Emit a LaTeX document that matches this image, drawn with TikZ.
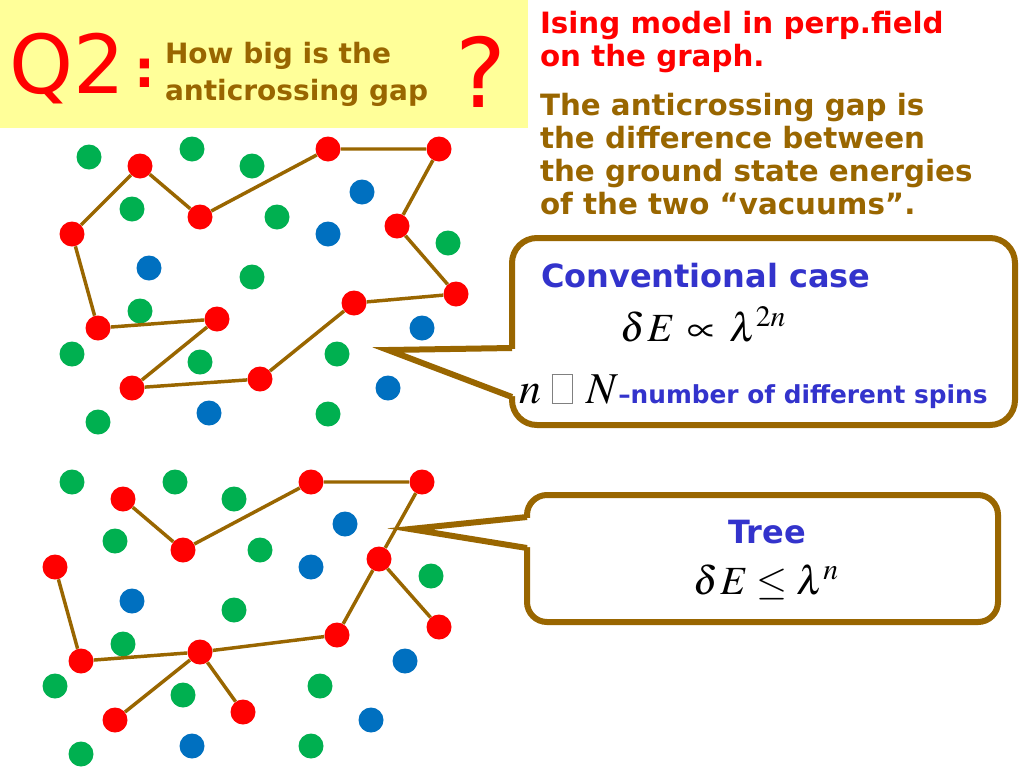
\documentclass[tikz,border=0pt]{standalone}
\usepackage{mathptmx}
\usepackage[no-math]{fontspec}
\setmainfont{DejaVu Sans}
\definecolor{brn}{HTML}{996600}
\definecolor{dred}{HTML}{FF0000}
\definecolor{dgreen}{HTML}{00B050}
\definecolor{dblue}{HTML}{0070C0}
\definecolor{tblue}{HTML}{3333CC}
\definecolor{banner}{HTML}{FFFF99}
\begin{document}
\begin{tikzpicture}[x=0.75pt,y=-0.75pt,
  spin/.style={circle,minimum size=18.75pt,inner sep=0pt},
  rs/.style={spin,fill=dred},
  gs/.style={spin,fill=dgreen},
  bs/.style={spin,fill=dblue},
  bond/.style={draw=brn,line width=2.6pt},
  callbox/.style={draw=brn,line width=4.5pt,fill=white,inner sep=0pt},
  pointer/.style={draw=brn,line width=4.5pt,line join=miter},
  lbl/.style={inner sep=0pt,outer sep=0pt}]
\useasboundingbox (0,0) rectangle (1024,768);
\fill[white] (0,0) rectangle (1024,768);

% banner
\node[fill=banner,minimum width=396pt,minimum height=96pt,anchor=north west,inner sep=0pt] (banner) at (0,0) {};
\node[lbl,anchor=base west,text=dred,font=\fontsize{61}{61}\selectfont] (q2) at (9,93)
  {Q2\hspace{7pt}\raisebox{4.5pt}{\fontsize{39}{39}\selectfont\bfseries :}};
\node[lbl,anchor=north west,align=left,text=brn,font=\fontsize{21}{27.75}\selectfont\bfseries] (q2text) at (165,42)
  {How big is the\\anticrossing gap};
\node[lbl,anchor=base west,text=dred,font=\fontsize{72}{72}\selectfont] (qm) at (455,107) {?};

% right text
\node[lbl,anchor=north west,align=left,text=dred,font=\fontsize{22}{24.75}\selectfont\bfseries] (ising) at (540,11)
  {Ising model in perp.field\\on the graph.};
\node[lbl,anchor=north west,align=left,text=brn,font=\fontsize{22}{24.75}\selectfont\bfseries] (gap) at (540,93)
  {The anticrossing gap is\\the difference between\\the ground state energies\\of the two “vacuums”.};

% top graph
\foreach \x/\y [count=\i] in {89/157,192/149,252/166,132/209,277/217,448/243,252/277,140/311,72/354,200/362,337/354,98/422,328/414}
  \node[gs] (tg\i) at (\x,\y) {};
\foreach \x/\y [count=\i] in {362/192,328/234,149/268,422/328,388/388,209/413}
  \node[bs] (tb\i) at (\x,\y) {};
\foreach \x/\y [count=\i] in {72/234,140/166,200/217,328/149,439/149,397/226,456/294,354/303,260/379,132/388,217/319,98/328}
  \node[rs] (t\i) at (\x,\y) {};
\draw[bond] (t1) -- (t2) -- (t3) -- (t4) -- (t5) -- (t6) -- (t7) -- (t8) -- (t9) -- (t10) -- (t11) -- (t12) -- (t1);

% bottom graph
\foreach \x/\y [count=\i] in {72/482,175/482,234/499,115/541,260/550,431/576,234/610,123/644,55/686,183/695,320/686,81/754,311/746}
  \node[gs] (bg\i) at (\x,\y) {};
\foreach \x/\y [count=\i] in {345/524,311/567,132/601,405/661,371/720,192/746}
  \node[bs] (bb\i) at (\x,\y) {};
\foreach \x/\y [count=\i] in {123/499,183/550,311/482,422/482,379/559,439/627,337/635,200/652,81/661,55/567,115/720,243/712}
  \node[rs] (b\i) at (\x,\y) {};
\draw[bond] (b1) -- (b2) -- (b3) -- (b4) -- (b5) -- (b6);
\draw[bond] (b5) -- (b7) -- (b8) -- (b9) -- (b10);
\draw[bond] (b8) -- (b11);
\draw[bond] (b8) -- (b12);

% callout 1
\node[callbox,rounded corners=18.75pt,minimum width=377.25pt,minimum height=140.25pt] (box1) at (763.5,331.5) {};
\coordinate (tip1) at (388,350);
\coordinate (p1a) at (512,348);
\coordinate (p1b) at (512,397);
\fill[white] (tip1) -- (512,349) -- (518,349) -- (518,396) -- (512,396) -- cycle;
\draw[pointer] (p1a) -- (tip1) -- (p1b);
\node[lbl,anchor=base west,text=tblue,font=\fontsize{24}{24}\selectfont\bfseries] (conv) at (541,287) {Conventional case};
\node[lbl,anchor=base west,font=\fontsize{30}{30}\selectfont] (f1) at (620,341)
  {$\delta\hspace{2pt}E\hspace{3pt}\propto\hspace{3pt}\lambda^{2n}$};
\node[lbl,anchor=base west,font=\fontsize{33}{33}\selectfont] (nn) at (519,403)
  {$n$\hspace{8pt}{\color{gray}\setlength{\fboxsep}{0pt}\setlength{\fboxrule}{0.5pt}\fbox{\rule{0pt}{21pt}\hspace{15pt}}}\hspace{10pt}$N${\color{tblue}\fontsize{18.6}{18.6}\selectfont\bfseries –number of different spins}};

% callout 2
\node[callbox,rounded corners=15pt,minimum width=353.25pt,minimum height=95.25pt] (box2) at (762.5,558.5) {};
\coordinate (tip2) at (410,529);
\coordinate (p2a) at (527,517);
\coordinate (p2b) at (527,548);
\fill[white] (tip2) -- (527,518) -- (533,518) -- (533,547) -- (527,547) -- cycle;
\draw[pointer] (p2a) -- (tip2) -- (p2b);
\node[lbl,anchor=base,text=tblue,font=\fontsize{24}{24}\selectfont\bfseries] (tree) at (767,543) {Tree};
\node[lbl,anchor=base west,font=\fontsize{30}{30}\selectfont] (f2) at (693,594)
  {$\delta\hspace{2pt}E \le \lambda^{n}$};
\end{tikzpicture}
\end{document}
